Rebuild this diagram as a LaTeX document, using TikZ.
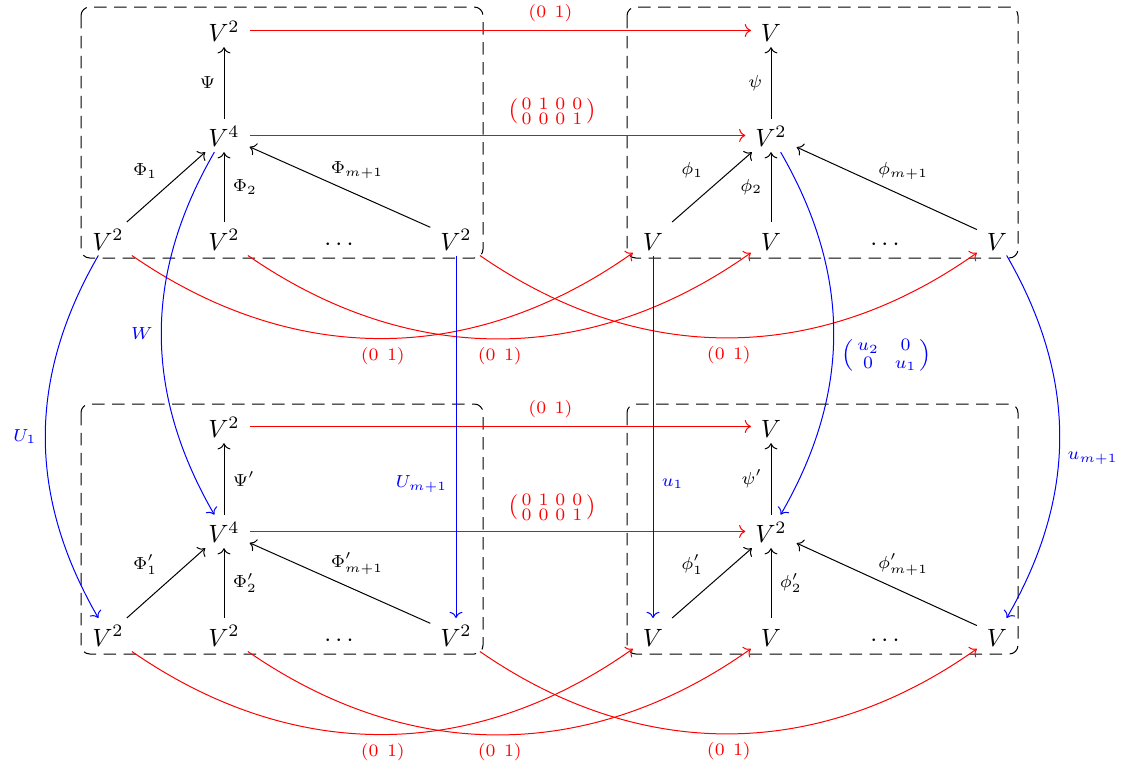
\documentclass[tikz,border=0pt]{standalone}
\usepackage{amsmath}
\usetikzlibrary{arrows.meta}
\begin{document}
\begin{tikzpicture}[x=0.4pt,y=-0.4pt,
  cell/.style={anchor=base, inner xsep=3.8pt, inner ysep=0pt, text height=11pt, text depth=2pt},
  ar/.style={-{Computer Modern Rightarrow}},
  rar/.style={ar, red},
  bluear/.style={ar, blue},
  box/.style={draw, dash pattern=on 5pt off 3pt, rounded corners=3.5pt},
  lbl/.style={execute at begin node=$\scriptstyle, execute at end node=$}
]
\useasboundingbox (0,0) rectangle (1135,773);

% dashed boxes
\draw[box] (81,7) rectangle (483,258);
\draw[box] (627,7) rectangle (1018,258);
\draw[box] (81,404) rectangle (483,654);
\draw[box] (627,404) rectangle (1018,654);

% top-left
\node[cell] (a1) at (224,41.7) {$V^2$};
\node[cell] (a2) at (224,146.7) {$V^4$};
\node[cell] (a3) at (108,250) {$V^2$};
\node[cell] (a4) at (224,250) {$V^2$};
\node[cell] (a5) at (341,250) {$\cdots$};
\node[cell] (a6) at (456,250) {$V^2$};
% top-right
\node[cell] (b1) at (771,41.7) {$V$};
\node[cell] (b2) at (771,146.7) {$V^2$};
\node[cell] (b3) at (653,250) {$V$};
\node[cell] (b4) at (771,250) {$V$};
\node[cell] (b5) at (887,250) {$\cdots$};
\node[cell] (b6) at (997,250) {$V$};
% bottom-left
\node[cell] (c1) at (224,437.7) {$V^2$};
\node[cell] (c2) at (224,542.7) {$V^4$};
\node[cell] (c3) at (108,646) {$V^2$};
\node[cell] (c4) at (224,646) {$V^2$};
\node[cell] (c5) at (341,646) {$\cdots$};
\node[cell] (c6) at (456,646) {$V^2$};
% bottom-right
\node[cell] (d1) at (771,437.7) {$V$};
\node[cell] (d2) at (771,542.7) {$V^2$};
\node[cell] (d3) at (653,646) {$V$};
\node[cell] (d4) at (771,646) {$V$};
\node[cell] (d5) at (887,646) {$\cdots$};
\node[cell] (d6) at (997,646) {$V$};

% black arrows, top-left
\draw[ar] (a2) -- node[lbl,left] {\Psi} (a1);
\draw[ar] (a3) -- node[lbl,above left] {\Phi_1} (a2);
\draw[ar] (a4) -- node[lbl,right] {\Phi_2} (a2);
\draw[ar] (a6) -- node[lbl,above,xshift=6.8pt] {\Phi_{m+1}} (a2);
% top-right
\draw[ar] (b2) -- node[lbl,left] {\psi} (b1);
\draw[ar] (b3) -- node[lbl,above left] {\phi_1} (b2);
\draw[ar] (b4) -- node[lbl,left] {\phi_2} (b2);
\draw[ar] (b6) -- node[lbl,above,xshift=6.5pt] {\phi_{m+1}} (b2);
% bottom-left
\draw[ar] (c2) -- node[lbl,right] {\Psi'} (c1);
\draw[ar] (c3) -- node[lbl,above left] {\Phi'_1} (c2);
\draw[ar] (c4) -- node[lbl,right] {\Phi'_2} (c2);
\draw[ar] (c6) -- node[lbl,above,xshift=6.8pt] {\Phi'_{m+1}} (c2);
% bottom-right
\draw[ar] (d2) -- node[lbl,left] {\psi'} (d1);
\draw[ar] (d3) -- node[lbl,above left] {\phi'_1} (d2);
\draw[ar] (d4) -- node[lbl,right] {\phi'_2} (d2);
\draw[ar] (d6) -- node[lbl,above,xshift=6.5pt] {\phi'_{m+1}} (d2);

% red horizontal arrows
\draw[rar] (a1) -- node[lbl,above,pos=0.6] {(0\ 1)} (b1);
\draw[rar] (a2) -- node[lbl,above,pos=0.61,yshift=1pt] {\left(\begin{smallmatrix}0&1&0&0\\0&0&0&1\end{smallmatrix}\right)} (b2);
\draw[rar] (c1) -- node[lbl,above,pos=0.6] {(0\ 1)} (d1);
\draw[rar] (c2) -- node[lbl,above,pos=0.61,yshift=1pt] {\left(\begin{smallmatrix}0&1&0&0\\0&0&0&1\end{smallmatrix}\right)} (d2);

% red curved arrows
\draw[rar] (a3) to[bend right=35] node[lbl,below] {(0\ 1)} (b3);
\draw[rar] (a4) to[bend right=35] node[lbl,below] {(0\ 1)} (b4);
\draw[rar] (a6) to[bend right=35] node[lbl,below] {(0\ 1)} (b6);
\draw[rar] (c3) to[bend right=35] node[lbl,below] {(0\ 1)} (d3);
\draw[rar] (c4) to[bend right=35] node[lbl,below] {(0\ 1)} (d4);
\draw[rar] (c6) to[bend right=35] node[lbl,below] {(0\ 1)} (d6);

% blue arrows
\draw[bluear] (a3) to[bend right=30] node[lbl,left] {U_1} (c3);
\draw[bluear] (a2) to[bend right=30] node[lbl,left] {W} (c2);
\draw[bluear] (a6) -- node[lbl,left,pos=0.63] {U_{m+1}} (c6);
\draw[bluear] (b3) -- node[lbl,right,pos=0.63] {u_1} (d3);
\draw[bluear] (b2) to[bend left=30] node[lbl,right,pos=0.56] {\left(\begin{smallmatrix}u_2&\mkern8mu 0\\0&\mkern8mu u_1\end{smallmatrix}\right)} (d2);
\draw[bluear] (b6) to[bend left=30] node[lbl,right,pos=0.56] {u_{m+1}} (d6);
\end{tikzpicture}
\end{document}
